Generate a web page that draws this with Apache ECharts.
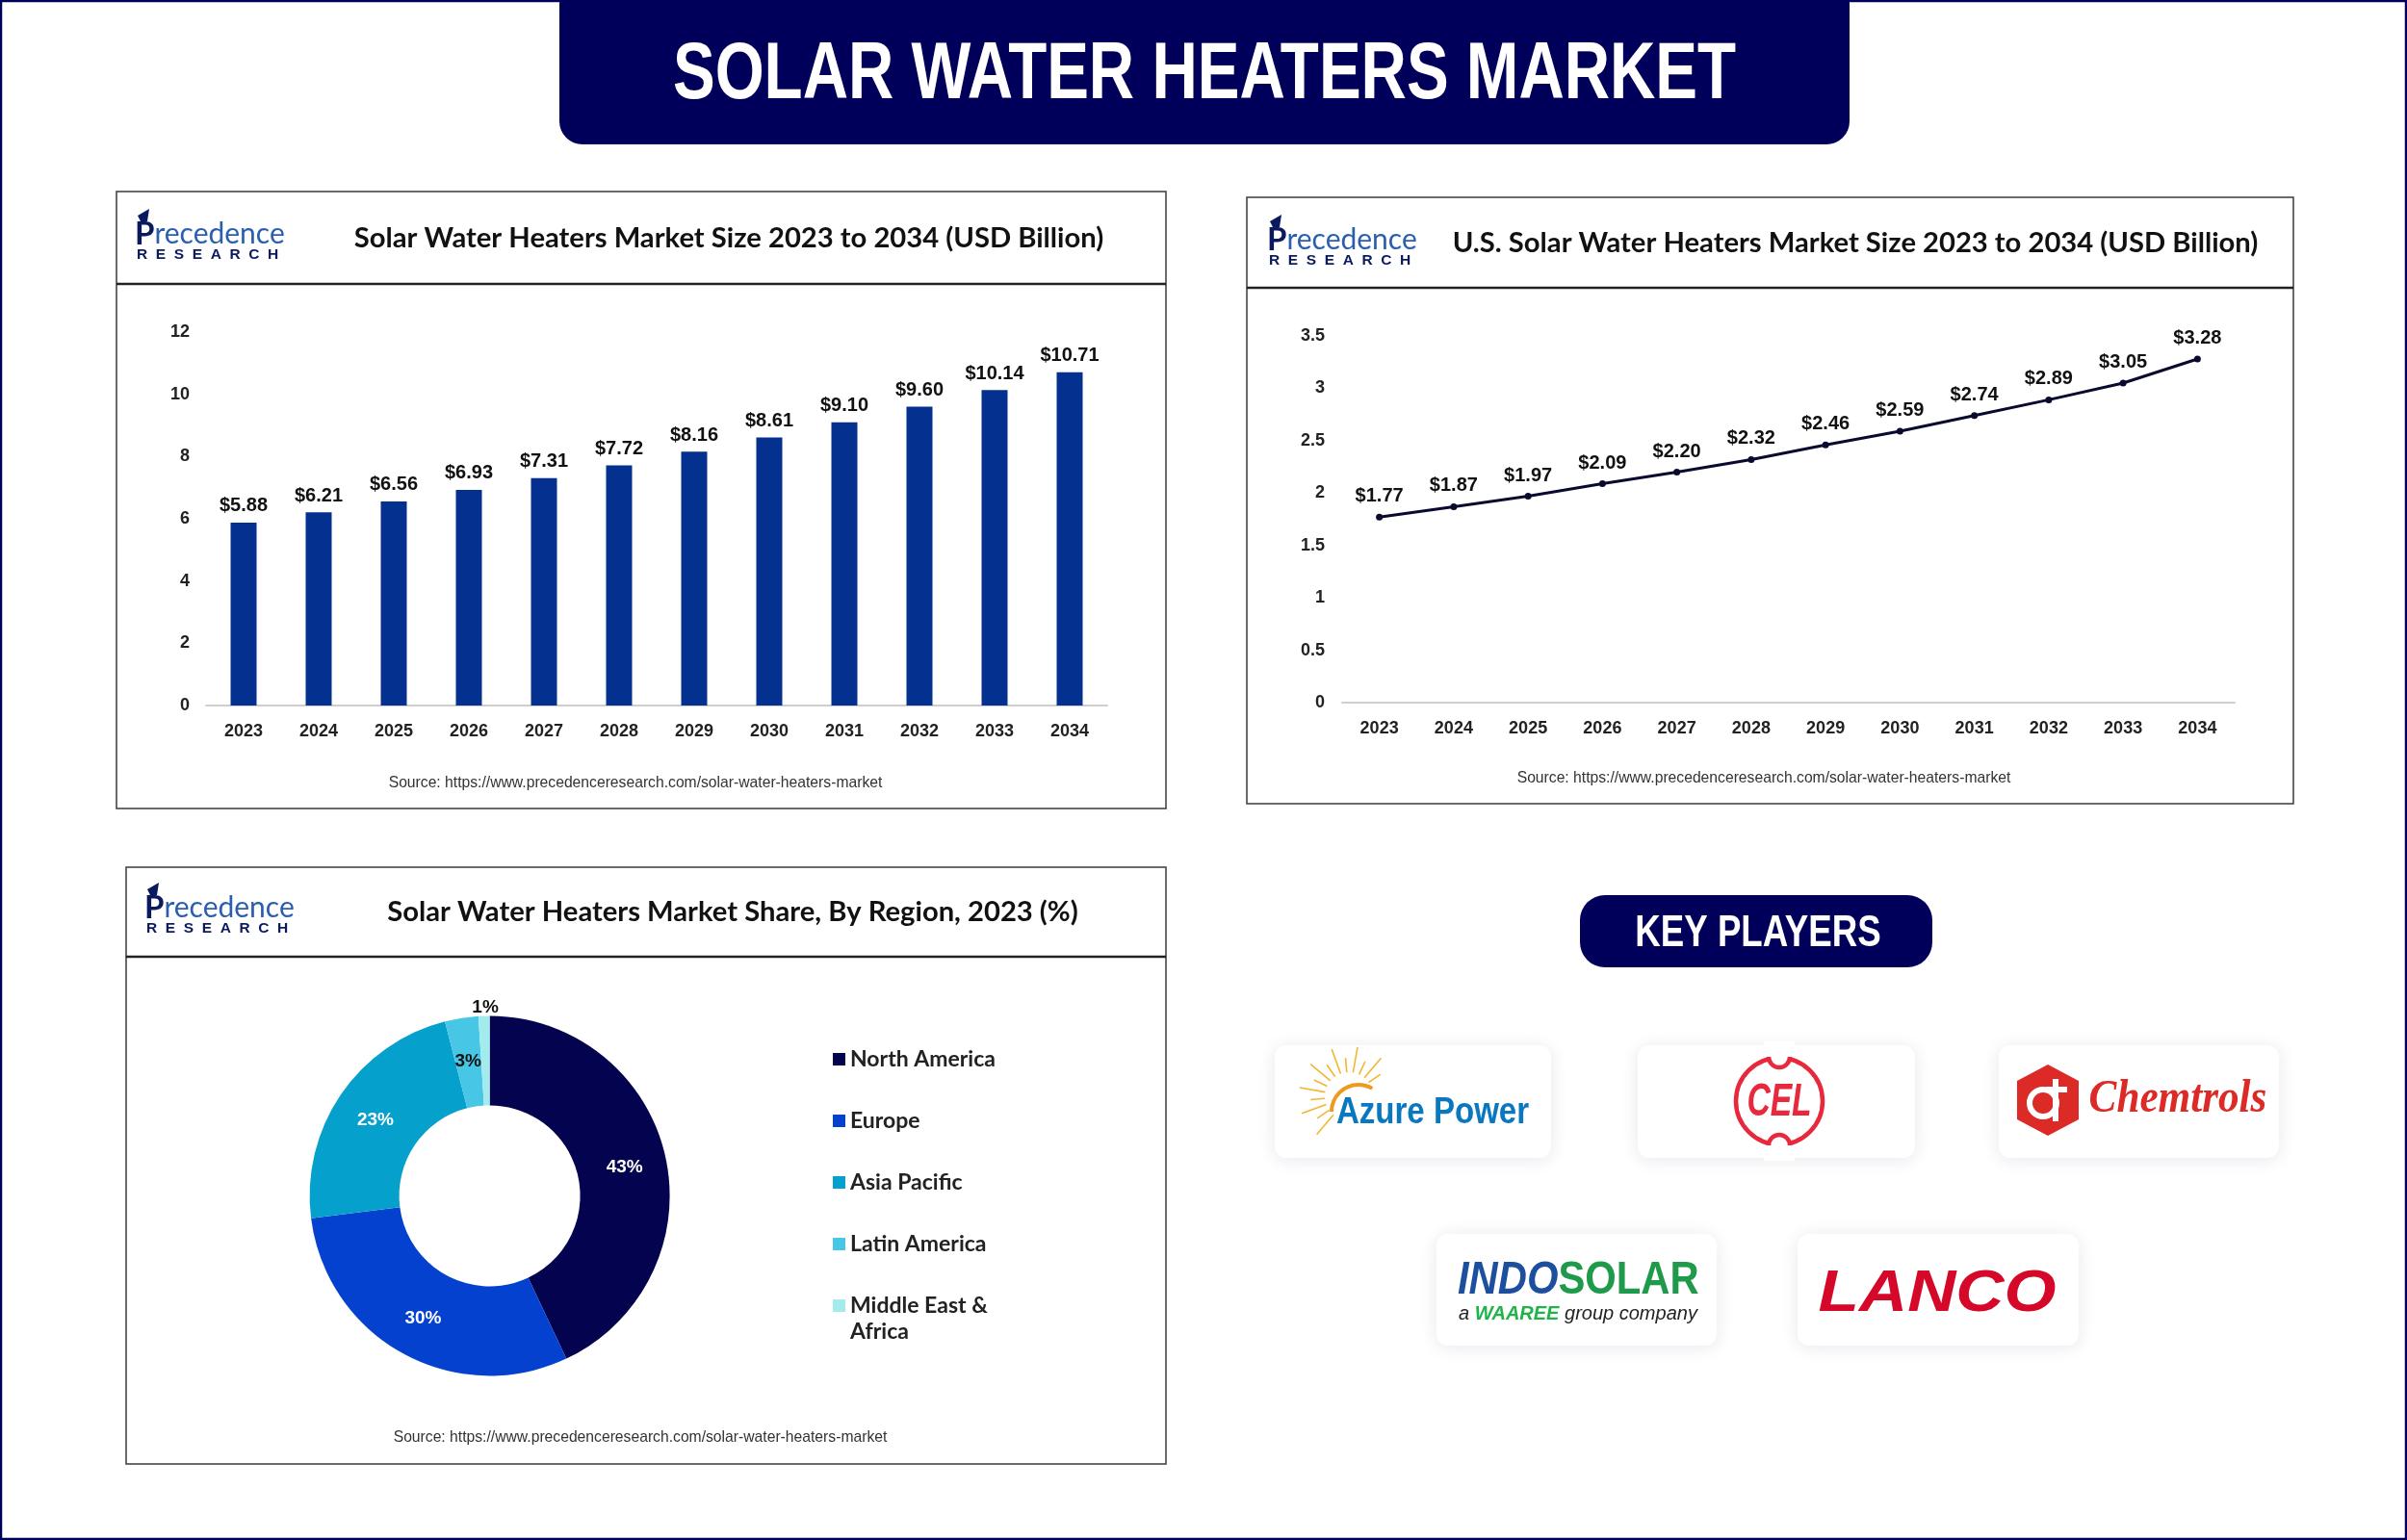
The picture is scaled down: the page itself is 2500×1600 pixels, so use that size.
<!DOCTYPE html>
<html>
<head>
<meta charset="utf-8">
<title>Solar Water Heaters Market</title>
<script src="https://cdn.jsdelivr.net/npm/echarts@6/dist/echarts.min.js"></script>
<style>
	html,body{margin:0;padding:0;background:#fff;}
	#main{width:2500px;height:1600px;}
</style>
</head>
<body>
<div id="main"></div>
<script>
var years=['2023','2024','2025','2026','2027','2028','2029','2030','2031','2032','2033','2034'];
var marketSize=[5.88,6.21,6.56,6.93,7.31,7.72,8.16,8.61,9.10,9.60,10.14,10.71];
var usMarketSize=[1.77,1.87,1.97,2.09,2.20,2.32,2.46,2.59,2.74,2.89,3.05,3.28];
var regions=['North America','Europe','Asia Pacific','Latin America','Middle East & Africa'];
var regionShare=[43,30,23,3,1];
var regionColors=['#03034f','#0541cf','#05a0cc','#48c6e6','#a4ebee'];

var ARIAL='"Liberation Sans",Arial,sans-serif';
var LATO='Lato,"Open Sans",sans-serif';
var NAVY='#00005a';

var myChart=echarts.init(document.getElementById('main'));

//axis shared by the two upper charts
function xAxisOf(gridIndex,margin){
	return {
		type:'category',gridIndex:gridIndex,data:years,
		axisTick:{show:false},
		axisLine:{lineStyle:{color:'#cfcfcf',width:2}},
		axisLabel:{margin:margin,color:'#222',fontFamily:ARIAL,fontWeight:'bold',fontSize:18}
	};
}
function yAxisOf(gridIndex,max,interval,margin){
	return {
		type:'value',gridIndex:gridIndex,min:0,max:max,interval:interval,
		splitLine:{show:false},axisLine:{show:false},axisTick:{show:false},
		axisLabel:{margin:margin,padding:[3,0,0,0],color:'#222',fontFamily:ARIAL,fontWeight:'bold',fontSize:18}
	};
}
function money(params){
	return '$'+params.value.toFixed(2);
}
function panelTitle(text,x,y){
	return {
		text:text,left:x,top:y,padding:0,textAlign:'center',textVerticalAlign:'middle',
		textStyle:{color:'#111',fontFamily:LATO,fontWeight:'bold',fontSize:29.2}
	};
}

//frame, header rule and source line of one panel
function panelParts(x1,y1,x2,y2,ruleY,sourceX,sourceY){
	return [{
		type:'rect',shape:{x:x1,y:y1,width:x2-x1,height:y2-y1},
		style:{fill:'#fff',stroke:'#3a3a3a',lineWidth:1.5},z:-10
	},{
		type:'line',shape:{x1:x1,y1:ruleY,x2:x2,y2:ruleY},
		style:{stroke:'#222',lineWidth:2.5},z:-9
	},{
		type:'text',x:sourceX,y:sourceY,
		style:{text:'Source: https://www.precedenceresearch.com/solar-water-heaters-market',
			fill:'#333',font:'15.7px '+ARIAL,align:'center',verticalAlign:'middle'}
	}];
}

//company mark in the panel header
function brandParts(x,y){
	return [{
		type:'polygon',
		shape:{points:[[x+3,y-19],[x+15,y-26],[x+13,y-13],[x+7,y-11]]},
		style:{fill:'#0b1a5e'}
	},{
		type:'text',x:x,y:y,
		style:{
			text:'{p|P}{r|recedence}',verticalAlign:'middle',align:'left',
			rich:{
				p:{fill:'#0b1a5e',fontFamily:LATO,fontWeight:'bold',fontSize:33},
				r:{fill:'#2a5fb0',fontFamily:LATO,fontSize:30}
			}
		}
	},{
		type:'text',x:x+2,y:y+22,
		style:{text:'R  E  S  E  A  R  C  H',fill:'#0b1a5e',font:'bold 15.5px '+ARIAL,align:'left',verticalAlign:'middle'}
	}];
}

function card(x1,y1,x2,y2){
	return {
		type:'rect',shape:{x:x1,y:y1,width:x2-x1,height:y2-y1,r:12},z:-8,
		style:{fill:'#fff',shadowBlur:18,shadowColor:'rgba(20,30,90,0.10)',shadowOffsetY:2}
	};
}
function label(text,x,y,font,fill,scaleX){
	return {
		type:'text',x:x,y:y,scaleX:scaleX||1,
		style:{text:text,font:font,fill:fill,align:'center',verticalAlign:'middle'}
	};
}

//hand drawn stand-ins for the five logos
function sunRays(cx,cy){
	var parts=[];
	var i,a,len;
	for(i=0;i<14;i++){
		a=(130+i*15)*Math.PI/180;
		len=i%2?40:52;
		parts.push({
			type:'line',
			shape:{x1:cx+Math.cos(a)*25,y1:cy+Math.sin(a)*25,x2:cx+Math.cos(a)*len,y2:cy+Math.sin(a)*len},
			style:{stroke:'#f2b632',lineWidth:1.6}
		});
	}
	parts.push({
		type:'arc',shape:{cx:cx+10,cy:cy+16,r:28,startAngle:Math.PI,endAngle:Math.PI*1.67},
		style:{stroke:'#ee9a1c',fill:'none',lineWidth:4}
	});
	return parts;
}
function celMark(cx,cy){
	return [{
		type:'circle',shape:{cx:cx,cy:cy,r:45},style:{fill:'none',stroke:'#e8283c',lineWidth:4.5}
	},{
		type:'circle',shape:{cx:cx,cy:cy-46,r:11},style:{fill:'#fff',stroke:'#e8283c',lineWidth:4.5}
	},{
		type:'rect',shape:{x:cx-16,y:cy-62,width:32,height:16},style:{fill:'#fff'}
	},{
		type:'circle',shape:{cx:cx,cy:cy+46,r:11},style:{fill:'#fff',stroke:'#e8283c',lineWidth:4.5}
	},{
		type:'rect',shape:{x:cx-16,y:cy+46,width:32,height:16},style:{fill:'#fff'}
	}];
}
function chemMark(cx,cy){
	return [{
		type:'polygon',
		shape:{points:[[cx,cy-37],[cx+32,cy-20],[cx+32,cy+20],[cx,cy+37],[cx-32,cy+20],[cx-32,cy-20]]},
		style:{fill:'#dc2a26'}
	},{
		type:'circle',shape:{cx:cx-5,cy:cy+3,r:14},style:{fill:'none',stroke:'#fff',lineWidth:6}
	},{
		type:'rect',shape:{x:cx+5,y:cy-22,width:6,height:44},style:{fill:'#fff'}
	},{
		type:'rect',shape:{x:cx-2,y:cy-14,width:22,height:6},style:{fill:'#fff'}
	}];
}

var graphics=[{
	type:'rect',shape:{x:1,y:1,width:2498,height:1598},style:{fill:'none',stroke:NAVY,lineWidth:2.5},z:-11
},{
	type:'rect',shape:{x:581,y:-20,width:1340,height:170,r:24},style:{fill:NAVY}
},
	label('SOLAR WATER HEATERS MARKET',1251,79,'bold 84px '+ARIAL,'#fff',0.78),
{
	type:'rect',shape:{x:1641,y:930,width:366,height:75,r:26},style:{fill:NAVY}
},
	label('KEY PLAYERS',1826,970,'bold 47px '+ARIAL,'#fff',0.78),
	card(1324,1086,1611,1203),
	card(1701,1086,1989,1203),
	card(2076,1086,2367,1203),
	card(1492,1282,1783,1398),
	card(1867,1282,2159,1398),
	label('Azure Power',1488,1157,'bold 38px '+ARIAL,'#0a78c0',0.87),
	label('CEL',1848,1146,'italic bold 48px '+ARIAL,'#e8283c',0.7),
	label('Chemtrols',2262,1143,'italic bold 48px "Liberation Serif",serif','#dc2a26',0.9),
	{
		type:'text',x:1514,y:1331,scaleX:0.87,
		style:{
			text:'{a|INDO}{b|SOLAR}',align:'left',verticalAlign:'middle',
			rich:{
				a:{fill:'#1d4f9f',fontFamily:ARIAL,fontWeight:'bold',fontStyle:'italic',fontSize:48},
				b:{fill:'#1f9a4a',fontFamily:ARIAL,fontWeight:'bold',fontSize:48}
			}
		}
	},
	{
		type:'text',x:1515,y:1365,
		style:{
			text:'{c|a }{d|WAAREE}{c| group company}',align:'left',verticalAlign:'middle',
			rich:{
				c:{fill:'#222',fontFamily:ARIAL,fontStyle:'italic',fontSize:20},
				d:{fill:'#1fb34a',fontFamily:ARIAL,fontWeight:'bold',fontStyle:'italic',fontSize:20}
			}
		}
	},
	label('LANCO',2012,1345,'italic bold 62px '+ARIAL,'#d5082a',1.12),
	//second line of the last legend entry
	{
		type:'text',x:883,y:1384,
		style:{text:'Africa',fill:'#222',font:'bold 23px '+LATO,align:'left',verticalAlign:'middle'}
	}
].concat(
	panelParts(121,199,1211,840,295,660,814),
	panelParts(1295,205,2382,835,299,1832,809),
	panelParts(131,901,1211,1521,994,665,1494),
	brandParts(140,243),
	brandParts(1316,249),
	brandParts(150,943),
	sunRays(1401,1139),
	celMark(1848,1144),
	chemMark(2127,1143)
);

var option={
	animation:false,
	backgroundColor:'#fff',
	title:[
		panelTitle('Solar Water Heaters Market Size 2023 to 2034 (USD Billion)',757,248),
		panelTitle('U.S. Solar Water Heaters Market Size 2023 to 2034 (USD Billion)',1927,253),
		panelTitle('Solar Water Heaters Market Share, By Region, 2023 (%)',761,948)
	],
	grid:[
		{left:214,top:345,width:936,height:388},
		{left:1394,top:349,width:927,height:381}
	],
	xAxis:[xAxisOf(0,18),xAxisOf(1,18)],
	yAxis:[yAxisOf(0,12,2,17),yAxisOf(1,3.5,0.5,18)],
	legend:{
		orient:'vertical',left:865,top:1087,padding:0,icon:'rect',itemWidth:13,itemHeight:13,itemGap:37,
		selectedMode:false,
		textStyle:{color:'#222',fontFamily:LATO,fontWeight:'bold',fontSize:23,lineHeight:27},
		formatter:function(name){
			return name.replace(' Africa','');
		},
		data:regions
	},
	graphic:{elements:graphics},
	series:[{
		type:'bar',xAxisIndex:0,yAxisIndex:0,data:marketSize,barWidth:27,
		itemStyle:{color:'#04318f'},
		label:{show:true,position:'top',distance:7,formatter:money,color:'#111',
			fontFamily:ARIAL,fontWeight:'bold',fontSize:20}
	},{
		type:'line',xAxisIndex:1,yAxisIndex:1,data:usMarketSize,
		symbol:'circle',symbolSize:7,
		lineStyle:{color:'#0a0a30',width:3},itemStyle:{color:'#0a0a30'},
		label:{show:true,position:'top',distance:8,formatter:money,color:'#111',
			fontFamily:ARIAL,fontWeight:'bold',fontSize:20}
	},{
		type:'pie',center:[508.6,1242.4],radius:[94,187],startAngle:90,avoidLabelOverlap:false,
		labelLine:{show:false},
		label:{position:'inside',formatter:'{c}%',fontFamily:ARIAL,fontWeight:'bold',fontSize:19,color:'#fff'},
		//the 1% slice carries its label above the ring
		labelLayout:function(params){
			return params.dataIndex==4?{dy:-52}:{dy:2};
		},
		data:regions.map(function(name,i){
			var item={name:name,value:regionShare[i],itemStyle:{color:regionColors[i]}};
			if(i>2){
				item.label={color:'#111'};
			}
			return item;
		})
	}]
};
myChart.setOption(option);
</script>
</body>
</html>
